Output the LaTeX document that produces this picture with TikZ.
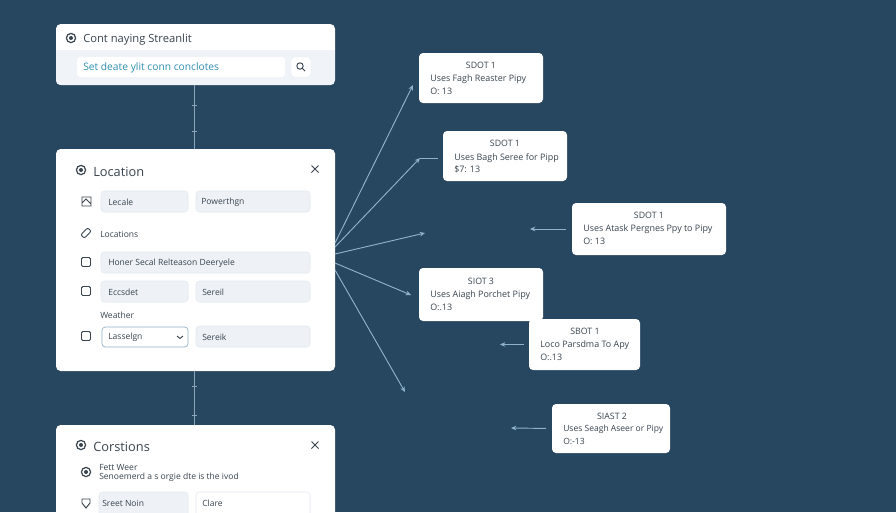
\documentclass[tikz,border=0pt]{standalone}
\usepackage{fontspec}
\setmainfont{Open Sans}
\usetikzlibrary{arrows.meta}
\definecolor{bgblue}{HTML}{27465F}
\definecolor{fieldgray}{HTML}{EEF2F6}
\definecolor{headgray}{HTML}{F0F4F8}
\definecolor{fieldedge}{HTML}{E2E8EE}
\definecolor{inkdark}{HTML}{39444E}
\definecolor{inkblue}{HTML}{2F8FB0}
\definecolor{wire}{HTML}{8FB2CB}
\definecolor{stem}{HTML}{8BA6B9}
\tikzset{
  x=0.75pt,y=-0.75pt,
  rbox/.style={inner sep=0pt,outer sep=0pt,rounded corners=2.5pt},
  panel/.style={rbox,fill=white,rounded corners=3.5pt},
  card/.style={rbox,fill=white,rounded corners=3pt},
  field/.style={rbox,fill=fieldgray,draw=fieldedge,line width=0.4pt},
  whitefield/.style={rbox,fill=white,draw=fieldedge,line width=0.4pt},
  selectfield/.style={rbox,fill=white,draw=wire,line width=0.5pt},
  headtext/.style={anchor=west,inner sep=0pt,yshift=-0.4pt,text=inkdark,font=\fontsize{9.6pt}{11pt}\selectfont},
  toptext/.style={anchor=west,inner sep=0pt,yshift=-1.1pt,text=inkdark,font=\fontsize{8.4pt}{10pt}\selectfont},
  small/.style={anchor=west,inner sep=0pt,yshift=-0.5pt,text=inkdark,font=\fontsize{6.4pt}{8pt}\selectfont},
  cardtext/.style={small,font=\fontsize{6.7pt}{8pt}\selectfont},
  cardtitle/.style={anchor=center,inner sep=0pt,text=inkdark,font=\fontsize{6.6pt}{8pt}\selectfont},
  icon/.style={draw=inkdark,line width=0.7pt,fill=none},
  stemline/.style={draw=stem,line width=0.6pt},
  arr/.style={draw=wire,line width=0.7pt,-{Stealth[length=4pt,width=3.5pt]}},
}
\newcommand{\rb}[6]{\node[#1,minimum width={(#5-#3)*0.75pt},minimum height={(#6-#4)*0.75pt}] (#2) at ({(#3+#5)/2},{(#4+#6)/2}) {};}
\newcommand{\ckbox}[2]{\draw[icon,rounded corners=1pt] (#1-4.5,#2-4.5) rectangle (#1+4.5,#2+4.5);}
\newcommand{\ringicon}[2]{\draw[icon,line width=0.9pt] (#1,#2) circle[radius=4.6]; \fill[inkdark] (#1,#2) circle[radius=2];}
\newcommand{\closex}[2]{\draw[icon] (#1-3.5,#2-3.5) -- (#1+3.5,#2+3.5) (#1-3.5,#2+3.5) -- (#1+3.5,#2-3.5);}
\newcommand{\tick}[1]{\draw[stemline] (191.5,#1) -- (196.5,#1);}
\begin{document}
\begin{tikzpicture}
\useasboundingbox (0,0) rectangle (896,512);
\clip (0,0) rectangle (896,512);
\fill[bgblue] (0,0) rectangle (896,512);

% top panel
\rb{panel}{p1}{56}{24}{335}{85}
\begin{scope}
  \clip[rounded corners=3.5pt] (56,24) rectangle (335,85);
  \fill[headgray] (56,50) rectangle (335,85);
\end{scope}
\rb{rbox,fill=white}{search}{77}{57}{285}{77}
\rb{rbox,fill=white,draw=fieldedge,line width=0.3pt}{sbtn}{291}{57}{311}{77}
\ringicon{71}{38}
\node[toptext] (t1) at (83,38) {Cont naying Streanlit};
\node[small,text=inkblue,font=\fontsize{7.7pt}{9pt}\selectfont] (t2) at (83,67) {Set deate ylit conn conclotes};
\draw[icon] (300,66) circle[radius=3.2] (302.4,68.4) -- (305,71);

% middle panel
\rb{panel}{p2}{56}{149}{335}{371}
\ringicon{81}{170}
\node[headtext] (t3) at (93,171) {Location};
\closex{315}{169}
\draw[icon] (82,197) rectangle (91,206) (82,203) -- (86,199) -- (91,204);
\rb{field}{f1}{101}{191}{188}{212}
\rb{field}{f2}{196}{191}{310}{212}
\node[small] (t4) at (108,201.5) {Lecale};
\node[small] (t5) at (201,201.5) {Powerthgn};
\draw[icon,rounded corners=1.5pt,rotate around={45:(86,233)}] (81,230.5) rectangle (91,235.5);
\node[small] (t6) at (100,233.5) {Locations};
\ckbox{86}{262}
\rb{field}{f3}{101}{252}{310}{273}
\node[small] (t7) at (108,262.5) {Honer Secal Relteason Deeryele};
\ckbox{86}{291}
\rb{field}{f4}{101}{281}{188}{302}
\rb{field}{f5}{196}{281}{310}{302}
\node[small] (t8) at (108,291.5) {Eccsdet};
\node[small] (t9) at (202,291.5) {Sereil};
\node[small] (t10) at (100,315) {Weather};
\ckbox{86}{336}
\rb{selectfield}{f6}{102}{327}{188}{347}
\rb{field}{f7}{196}{326}{310}{347}
\node[small] (t11) at (108,337) {Lasselgn};
\node[small] (t12) at (202,337) {Sereik};
\draw[icon] (177,336) -- (180,338.5) -- (183,336);

% bottom panel
\rb{panel}{p3}{56}{425}{335}{530}
\ringicon{81}{445}
\node[headtext] (t13) at (93,446) {Corstions};
\closex{315}{445}
\ringicon{86}{472}
\node[small] (t14) at (99,467) {Fett Weer};
\node[small] (t15) at (99,476.5) {Senoemerd a s orgie dte is the ivod};
\draw[icon] (82,499) -- (90,499) -- (90,503) -- (86,508) -- (82,503) -- cycle;
\rb{field}{f8}{99}{492}{188}{530}
\rb{whitefield}{f9}{196}{492}{310}{530}
\node[small] (t16) at (102,503) {Sreet Noin};
\node[small] (t17) at (202,503) {Clare};

% stems
\draw[stemline] ([xshift=-1.1pt]p1.south) -- ([xshift=-1.1pt]p2.north);
\draw[stemline] ([xshift=-1.1pt]p2.south) -- ([xshift=-1.1pt]p3.north);
\tick{105} \tick{131} \tick{386} \tick{415}

% cards
\rb{card}{ca}{419}{53}{543}{103}
\rb{card}{cb}{443}{131}{567}{181}
\rb{card}{cc}{572}{203}{726}{255}
\rb{card}{cd}{419}{268}{543}{321}
\rb{card}{ce}{529}{319}{640}{370}
\rb{card}{cf}{552}{404}{670}{453}

\node[cardtitle] (a1) at (481,65) {SDOT 1};
\node[cardtext] (a2) at (430,79) {Uses Fagh Reaster Pipy};
\node[cardtext] (a3) at (430,91) {O: 13};
\node[cardtitle] (b1) at (505,143) {SDOT 1};
\node[cardtext] (b2) at (454,157) {Uses Bagh Seree for Pipp};
\node[cardtext] (b3) at (454,169) {\$7: 13};
\node[cardtitle] (c1) at (649,215) {SDOT 1};
\node[cardtext] (c2) at (583,229) {Uses Atask Pergnes Ppy to Pipy};
\node[cardtext] (c3) at (583,241) {O: 13};
\node[cardtitle] (d1) at (481,281) {SIOT 3};
\node[cardtext] (d2) at (430,295) {Uses Aiagh Porchet Pipy};
\node[cardtext] (d3) at (430,307) {O:.13};
\node[cardtitle] (e1) at (585,331) {SBOT 1};
\node[cardtext] (e2) at (540,345) {Loco Parsdma To Apy};
\node[cardtext] (e3) at (540,357) {O:.13};
\node[cardtitle] (f1) at (612,416) {SIAST 2};
\node[small] (f2) at (563,429) {Uses Seagh Aseer or Pipy};
\node[small] (f3) at (563,441) {O:-13};

% fan from the middle panel
\coordinate (s1) at (335,243);
\coordinate (s2) at (335,247);
\coordinate (s3) at (335,254);
\coordinate (s4) at (335,263);
\coordinate (s5) at (335,270);
\coordinate (e1t) at (413,85);
\coordinate (e2t) at (420,158);
\coordinate (e2b) at (438,158);
\coordinate (e3t) at (425,233);
\coordinate (e4t) at (411,295);
\coordinate (e5t) at (405,392);
\draw[arr] (s1) -- (e1t);
\draw[arr] (s2) -- (e2t);
\draw[draw=wire,line width=0.7pt] (e2b) -- (e2t);
\draw[arr] (s3) -- (e3t);
\draw[arr] (s4) -- (e4t);
\draw[arr] (s5) -- (e5t);

% arrows from the cards
\coordinate (tc) at (530,229);
\coordinate (te) at (500,344.5);
\coordinate (tf) at (511,428);
\draw[arr,shorten <=4.5pt] (cc.west) -- (tc);
\draw[arr,shorten <=3.7pt] (ce.west) -- (te);
\draw[arr,shorten <=4.5pt] (cf.west) -- (tf);
\end{tikzpicture}
\end{document}
